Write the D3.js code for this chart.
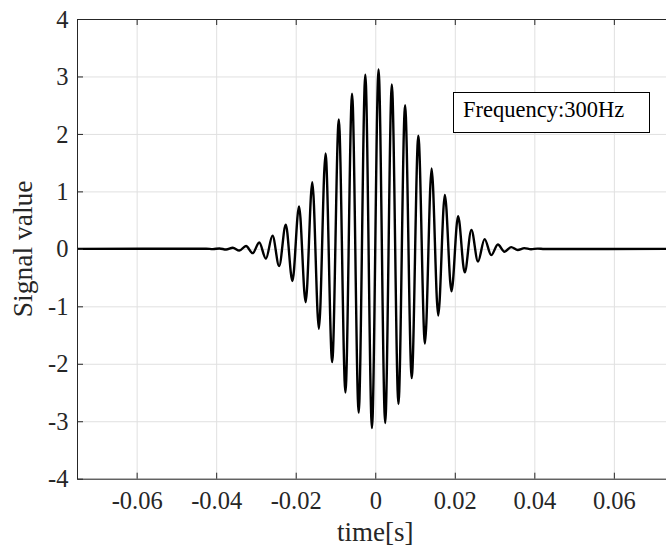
<html>
<script src='https://d3js.org/d3.v7.min.js'></script>
<style>
body {margin: 0; background: white;}
text {font-family: 'Liberation Serif', 'DejaVu Serif', serif; fill: #262626;}
.axis path, .axis line {stroke: #262626;}
.grid line {stroke: #e0e0e0;}
.grid path {stroke: none;}
</style>
<body onload='init()'>
<svg width=666 height=549></svg>
<script>
// extrema of the signal (time in s, value)
var extremaTime = [-0.075,
  -0.04250, -0.04083, -0.03917, -0.03750, -0.03583, -0.03417, -0.03250, -0.03083,
  -0.02917, -0.02750, -0.02583, -0.02417, -0.02250, -0.02083, -0.01917, -0.01750,
  -0.01583, -0.01417, -0.01250, -0.01083, -0.00917, -0.00750, -0.00583, -0.00417,
  -0.00250, -0.00083, 0.00083, 0.00250, 0.00417, 0.00583, 0.00750, 0.00917,
  0.01083, 0.01250, 0.01417, 0.01583, 0.01750, 0.01917, 0.02083, 0.02250,
  0.02417, 0.02583, 0.02750, 0.02917, 0.03083, 0.03250, 0.03417, 0.03583,
  0.03750, 0.03917, 0.04083, 0.04250,
  0.075];
var extremaValue = [0,
  0.002, -0.004, 0.007, -0.012, 0.02, -0.03, 0.05, -0.075,
  0.11, -0.17, 0.23, -0.30, 0.42, -0.56, 0.74, -0.93,
  1.16, -1.39, 1.66, -1.97, 2.25, -2.50, 2.70, -2.85,
  3.03, -3.12, 3.12, -3.03, 2.86, -2.70, 2.50, -2.25,
  1.97, -1.65, 1.40, -1.16, 0.94, -0.74, 0.57, -0.41,
  0.33, -0.22, 0.17, -0.11, 0.075, -0.05, 0.03, -0.02,
  0.012, -0.007, 0.004, -0.002,
  0];

var xTicks = [-0.06, -0.04, -0.02, 0, 0.02, 0.04, 0.06];
var yTicks = [-4, -3, -2, -1, 0, 1, 2, 3, 4];
var legendText = "Frequency:300Hz";

function init() {
  var left = 77, top = 19;
  var width = 596.5, height = 459.7;

  var x = d3.scaleLinear().domain([-0.075, 0.075]).range([0, width]);
  var y = d3.scaleLinear().domain([-4, 4]).range([height, 0]);

  var svg = d3.select("svg");
  var g = svg.append("g").attr("transform", "translate(" + left + "," + top + ")");

  // grid
  g.append("g").attr("class", "grid")
    .attr("transform", "translate(0," + height + ")")
    .call(d3.axisBottom(x).tickValues(xTicks).tickSize(-height).tickFormat(""));
  g.append("g").attr("class", "grid")
    .call(d3.axisLeft(y).tickValues(yTicks).tickSize(-width).tickFormat(""));

  // signal
  var data = extremaTime.map(function(t, i) { return [t, extremaValue[i]]; });
  g.append("clipPath").attr("id", "clip")
    .append("rect").attr("width", width).attr("height", height);
  var line = d3.line()
    .x(function(d) { return x(d[0]); })
    .y(function(d) { return y(d[1]); })
    .curve(d3.curveMonotoneX);
  g.append("path")
    .datum(data)
    .attr("clip-path", "url(#clip)")
    .attr("fill", "none")
    .attr("stroke", "black")
    .attr("stroke-width", 2.4)
    .attr("stroke-linejoin", "round")
    .attr("d", line);

  // axes (ticks pointing inward)
  var fmt = function(d) { return String(d); };
  var xAxis = g.append("g").attr("class", "axis")
    .attr("transform", "translate(0," + height + ")")
    .call(d3.axisBottom(x).tickValues(xTicks).tickSizeInner(-6).tickSizeOuter(0).tickFormat(fmt));
  xAxis.selectAll("text").attr("y", 30.5).attr("dy", 0)
    .style("font-size", "24.5px").style("font-family", "'Liberation Serif', serif");

  g.append("g").attr("class", "axis")
    .call(d3.axisTop(x).tickValues(xTicks).tickSizeInner(-6).tickSizeOuter(0).tickFormat(""));

  var yAxis = g.append("g").attr("class", "axis")
    .call(d3.axisLeft(y).tickValues(yTicks).tickSizeInner(-6).tickSizeOuter(0).tickPadding(8.5).tickFormat(fmt));
  yAxis.selectAll("text").attr("dy", "0.33em")
    .style("font-size", "24.5px").style("font-family", "'Liberation Serif', serif");

  g.append("line").attr("x1", width).attr("x2", width).attr("y1", 0).attr("y2", height)
    .attr("stroke", "#262626");

  // labels
  svg.append("text")
    .attr("x", left + x(0)).attr("y", 541)
    .attr("text-anchor", "middle")
    .style("font-size", "27px")
    .text("time[s]");
  svg.append("text")
    .attr("transform", "translate(32," + (top + y(0)) + ") rotate(-90)")
    .attr("text-anchor", "middle")
    .style("font-size", "27.5px")
    .text("Signal value");

  // legend
  svg.append("rect")
    .attr("x", 453.5).attr("y", 92.5).attr("width", 196).attr("height", 40)
    .attr("fill", "white").attr("stroke", "black").attr("stroke-width", 1);
  svg.append("text")
    .attr("x", 463).attr("y", 116.5)
    .style("font-size", "22.5px").style("fill", "black")
    .text(legendText);
}
</script>
</body>
</html>
